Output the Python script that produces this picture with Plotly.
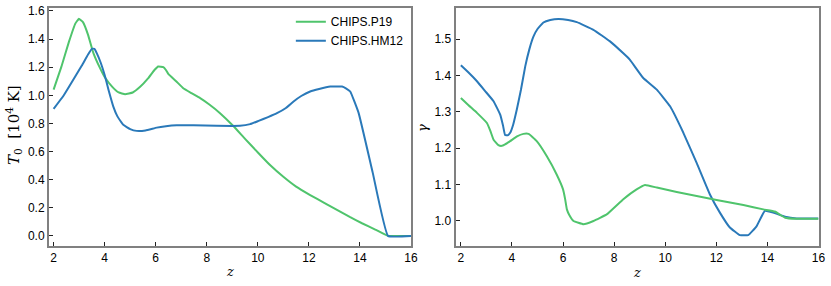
import plotly.graph_objects as go

# ---- data ----
z_t0_p19 = [2.0, 2.3, 2.6, 2.85, 2.99, 3.15, 3.35, 3.56, 3.8, 4.0, 4.3, 4.55, 4.8, 5.1, 5.39, 5.7, 5.95, 6.1, 6.3, 6.4, 6.5,
            6.8, 7.08, 7.4, 7.74, 8.1, 8.52, 9.05, 9.5, 10.03, 10.5, 11.0, 11.5, 12.05, 12.6, 13.1, 13.6, 14.08, 14.6, 15.1, 16.0]
t0_p19 = [1.04, 1.2, 1.38, 1.51, 1.544, 1.52, 1.43, 1.30, 1.2, 1.13, 1.06, 1.02, 1.008, 1.02, 1.06, 1.12, 1.18, 1.205, 1.2, 1.18, 1.15,
          1.10, 1.05, 1.015, 0.98, 0.935, 0.873, 0.78, 0.69, 0.588, 0.50, 0.42, 0.35, 0.29, 0.235, 0.185, 0.135, 0.09, 0.045, 0.0, 0.0]

z_t0_hm12 = [2.0, 2.4, 2.77, 3.1, 3.35, 3.5, 3.6, 3.69, 3.85, 4.0, 4.15, 4.34, 4.5, 4.73, 5.0, 5.25, 5.6, 6.04, 6.4, 6.82, 7.48,
             8.39, 9.3, 9.7, 10.03, 10.4, 10.75, 11.1, 11.4, 11.7, 12.05, 12.4, 12.84, 13.3, 13.45, 13.62, 13.95, 14.5, 15.1, 16.0]
t0_hm12 = [0.903, 1.0, 1.11, 1.21, 1.29, 1.33, 1.33, 1.30, 1.23, 1.145, 1.04, 0.92, 0.85, 0.79, 0.76, 0.747, 0.75, 0.77, 0.78, 0.787, 0.787,
           0.783, 0.783, 0.795, 0.818, 0.845, 0.873, 0.91, 0.956, 0.995, 1.027, 1.045, 1.062, 1.062, 1.05, 1.027, 0.873, 0.45, 0.0, 0.0]

z_g_hm12 = [2.0, 2.3, 2.63, 2.95, 3.28, 3.54, 3.65, 3.73, 3.83, 3.93, 4.05, 4.19, 4.35, 4.52, 4.68, 4.84, 5.0, 5.23, 5.5, 5.82,
            6.2, 6.54, 7.19, 7.84, 8.36, 8.62, 9.14, 9.67, 10.19, 10.71, 11.23, 11.75, 12.14, 12.53, 12.92, 13.25, 13.58, 13.9,
            14.23, 14.69, 15.14, 16.0]
g_hm12 = [1.428, 1.408, 1.384, 1.357, 1.329, 1.292, 1.262, 1.236, 1.235, 1.242, 1.265, 1.306, 1.36, 1.425, 1.472, 1.507, 1.528, 1.546, 1.553, 1.556,
          1.553, 1.547, 1.526, 1.494, 1.461, 1.443, 1.393, 1.361, 1.315, 1.242, 1.159, 1.072, 1.022, 0.981, 0.960, 0.960, 0.985, 1.027,
          1.022, 1.011, 1.006, 1.006]

z_g_p19 = [2.0, 2.3, 2.63, 3.02, 3.15, 3.28, 3.47, 3.6, 3.73, 3.93, 4.2, 4.45, 4.65, 4.97, 5.36, 5.75, 6.0, 6.08, 6.15, 6.25,
           6.41, 6.8, 7.19, 7.71, 8.36, 8.88, 9.21, 9.67, 10.45, 11.23, 12.01, 13.06, 13.84, 14.29, 14.5, 14.69, 15.14, 16.0]
g_p19 = [1.338, 1.318, 1.297, 1.269, 1.248, 1.223, 1.208, 1.206, 1.21, 1.219, 1.232, 1.239, 1.239, 1.219, 1.178, 1.127, 1.086, 1.06, 1.031, 1.015,
         0.999, 0.990, 0.999, 1.017, 1.059, 1.086, 1.098, 1.091, 1.079, 1.068, 1.057, 1.043, 1.031, 1.025, 1.016, 1.008, 1.005, 1.005]

x_ticks = [2, 4, 6, 8, 10, 12, 14, 16]
t0_ticks = [0.0, 0.2, 0.4, 0.6, 0.8, 1.0, 1.2, 1.4, 1.6]
g_ticks = [1.0, 1.1, 1.2, 1.3, 1.4, 1.5]

GREEN = "#4fc46c"
BLUE = "#2a79b9"
W, H = 831, 286

line_style = dict(width=2, shape="spline", smoothing=0.3)

fig = go.Figure()
fig.add_trace(go.Scatter(x=z_t0_p19, y=t0_p19, mode="lines", name="CHIPS.P19",
                         line=dict(color=GREEN, **line_style), xaxis="x", yaxis="y"))
fig.add_trace(go.Scatter(x=z_t0_hm12, y=t0_hm12, mode="lines", name="CHIPS.HM12",
                         line=dict(color=BLUE, **line_style), xaxis="x", yaxis="y"))
fig.add_trace(go.Scatter(x=z_g_hm12, y=g_hm12, mode="lines", showlegend=False,
                         line=dict(color=BLUE, **line_style), xaxis="x2", yaxis="y2"))
fig.add_trace(go.Scatter(x=z_g_p19, y=g_p19, mode="lines", showlegend=False,
                         line=dict(color=GREEN, **line_style), xaxis="x2", yaxis="y2"))

frame = dict(showline=True, linecolor="#808080", linewidth=2, mirror=True, showgrid=False, zeroline=False,
             ticks="inside", ticklen=4, tickwidth=1, tickcolor="#222222",
             tickfont=dict(family="Liberation Sans, Arial", size=12, color="black"), automargin=False)

ydom = [1 - 246 / H, 1 - 8 / H]
fig.update_layout(
    width=W, height=H,
    margin=dict(l=0, r=0, t=0, b=0),
    paper_bgcolor="white", plot_bgcolor="white",
    xaxis=dict(domain=[49 / W, 411 / W], range=[1.82, 16.0], tickvals=x_ticks, anchor="y", **frame),
    yaxis=dict(domain=ydom, range=[-0.072, 1.621], tickvals=t0_ticks, tickformat=".1f", anchor="x", **frame),
    xaxis2=dict(domain=[455.5 / W, 818.5 / W], range=[1.79, 16.0], tickvals=x_ticks, anchor="y2", **frame),
    yaxis2=dict(domain=ydom, range=[0.930, 1.586], tickvals=g_ticks, tickformat=".1f", anchor="x2", **frame),
    legend=dict(x=0.35, y=0.975, xanchor="left", yanchor="top", bgcolor="rgba(0,0,0,0)",
                font=dict(family="Liberation Sans, Arial", size=12, color="black"), tracegroupgap=0),
    showlegend=True,
)

serif = dict(family="DejaVu Serif, Liberation Serif", size=15, color="black")
small_serif = dict(family="DejaVu Serif, Liberation Serif", size=13, color="black")
ann = dict(xref="paper", yref="paper", showarrow=False, xanchor="center", yanchor="middle")
fig.add_annotation(x=13 / W, y=1 - 125 / H, textangle=-90,
                   text="<i>T</i><sub>0</sub>  [10<sup>4</sup> K]", font=serif, **ann)
fig.add_annotation(x=423 / W, y=1 - 128 / H, textangle=-90, text="<i>γ</i>", font=small_serif, **ann)
fig.add_annotation(x=230 / W, y=1 - 271 / H, text="<i>z</i>", font=small_serif, **ann)
fig.add_annotation(x=637 / W, y=1 - 272 / H, text="<i>z</i>", font=small_serif, **ann)

fig.write_html("out.html", config={"displayModeBar": False},
               post_script="document.body.style.margin='0';")
